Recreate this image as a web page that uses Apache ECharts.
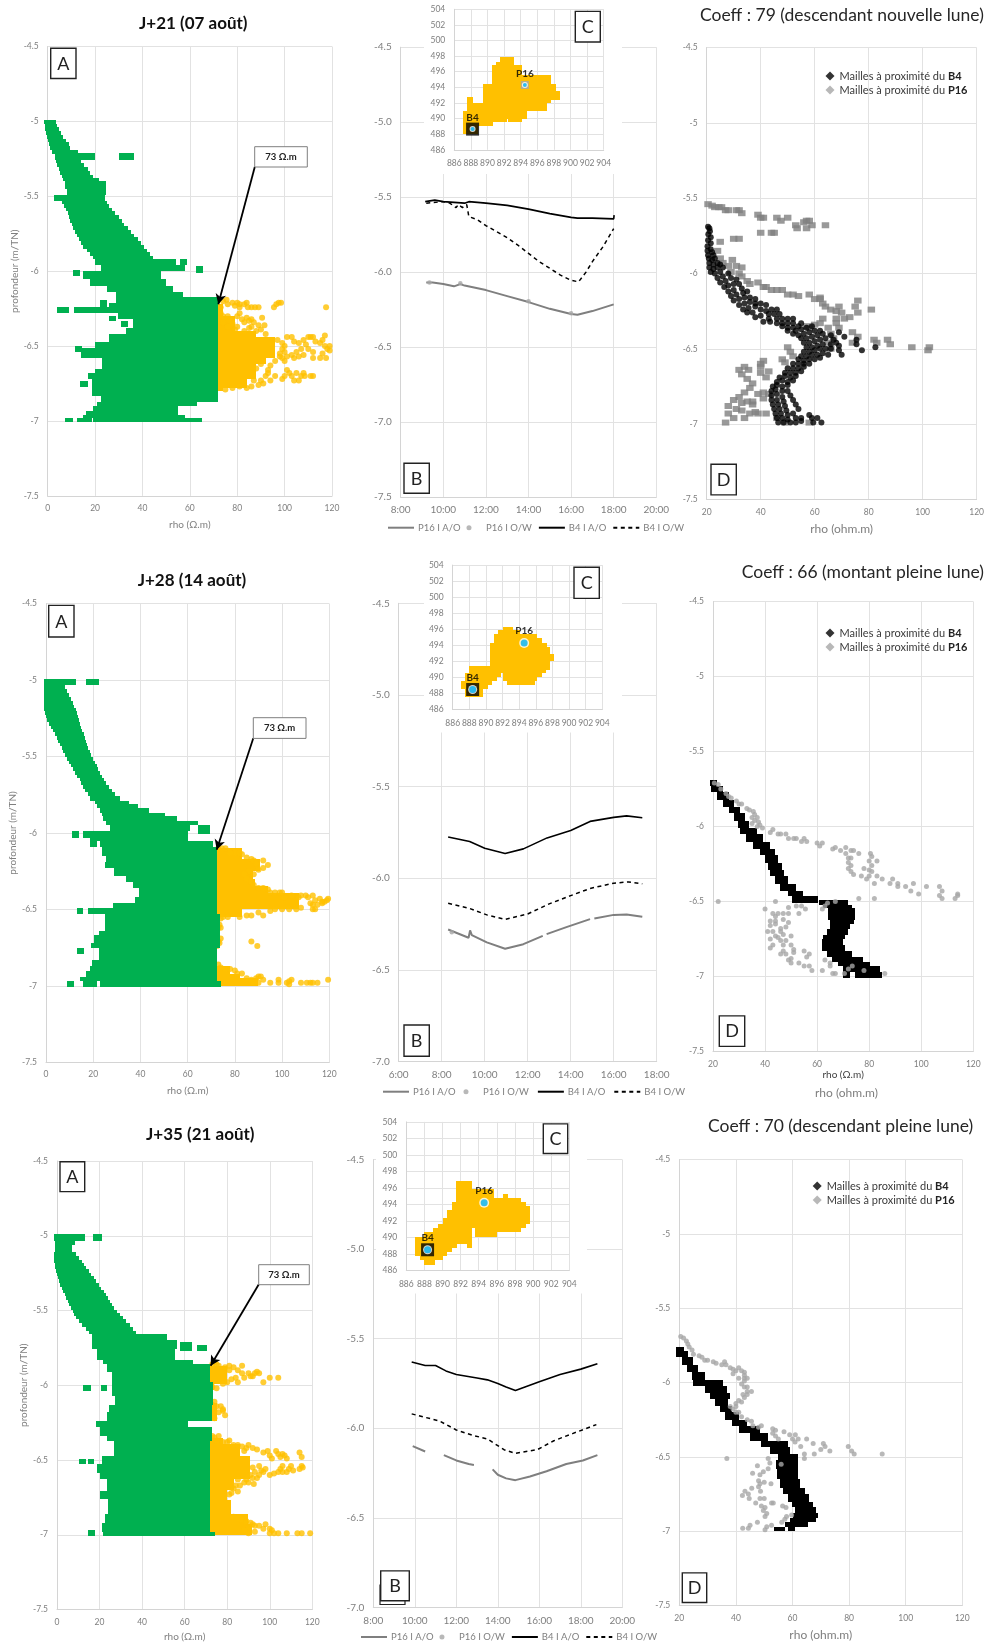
<!DOCTYPE html>
<html><head><meta charset="utf-8">
<script src="https://cdn.jsdelivr.net/npm/echarts@6/dist/echarts.min.js"></script>
<style>html,body{margin:0;padding:0;background:#fff}#c{width:987px;height:1643px;filter:blur(0.4px)}</style>
</head><body><div id="c"></div>
<script>
// ---------- tick / text lists
const titlesBold=["J+21 (07 août)","J+28 (14 août)","J+35 (21 août)"];
const titlesCoeff=["Coeff : 79 (descendant nouvelle lune)","Coeff : 66 (montant pleine lune)","Coeff : 70 (descendant pleine lune)"];
const legendB=["P16 I A/O","P16 I O/W","B4 I A/O","B4 I O/W"];
const legendD=["Mailles à proximité du B4","Mailles à proximité du P16"];

// ---------- panel A: rows are [depthTop, depthBottom, rhoLeft, rhoRight]
const a1Green=[[-4.99,-5.015,-1.5,3.4],[-5.015,-5.04,-1.3,3.8],[-5.04,-5.065,-1,4.6],[-5.065,-5.09,-0.8,5.6],[-5.09,-5.115,-0.5,6.6],[-5.115,-5.14,0,7.8],[-5.14,-5.165,0.4,8.8],[-5.165,-5.19,1,9.6],[-5.19,-5.22,1.8,13],[-5.21,-5.26,3,20],[-5.21,-5.26,30,36.5],[-5.26,-5.28,3.6,14],[-5.28,-5.305,4,15.5],[-5.305,-5.33,4.8,16.8],[-5.33,-5.355,5.4,18],[-5.355,-5.38,6,19],[-5.38,-5.4,6.6,21.5],[-5.4,-5.45,7.2,24.5],[-5.45,-5.49,8,24.5],[-5.49,-5.53,2.7,24],[-5.53,-5.55,6,25],[-5.55,-5.575,7,26],[-5.575,-5.6,7.8,27.2],[-5.6,-5.625,8.4,28.6],[-5.625,-5.65,9,30],[-5.65,-5.675,9.6,31.2],[-5.675,-5.7,10.2,32.4],[-5.7,-5.725,10.8,33.8],[-5.725,-5.75,11.6,35.2],[-5.75,-5.775,12.4,36.6],[-5.775,-5.8,13.2,38],[-5.8,-5.825,14,39.4],[-5.825,-5.85,15,40.6],[-5.85,-5.875,16.4,42],[-5.875,-5.9,18,43.2],[-5.9,-5.92,19,44.4],[-5.92,-5.96,20,54],[-5.92,-5.96,56,59],[-5.96,-6,22.5,58],[-5.965,-6.01,62.5,65.5],[-6,-6.05,15,48],[-5.99,-6.03,10.7,13.7],[-6.05,-6.1,18,50],[-6.1,-6.14,25,53],[-6.14,-6.17,29,57],[-6.17,-6.21,29,72],[-6.21,-6.24,26,72],[-6.19,-6.24,22,25],[-6.24,-6.28,11,72],[-6.24,-6.28,4,9],[-6.28,-6.32,29.5,72],[-6.3,-6.335,26,29],[-6.33,-6.37,31,34],[-6.32,-6.38,36,72],[-6.38,-6.42,33,72],[-6.42,-6.47,26,72],[-6.47,-6.51,20,72],[-6.5,-6.54,11.5,14.5],[-6.51,-6.58,14,72],[-6.58,-6.65,23,72],[-6.65,-6.68,20,72],[-6.68,-6.72,17,72],[-6.73,-6.77,13.8,16.8],[-6.72,-6.83,18.5,72],[-6.83,-6.87,22.5,72],[-6.87,-6.9,21,63],[-6.9,-6.93,19,55],[-6.93,-6.96,16,55],[-6.96,-6.98,15,58],[-6.98,-7.01,19,65],[-6.98,-7.01,12.2,18.7],[-6.98,-7.01,7.5,10.5]];
const a1Yellow=[[-6.22,-6.3,72,74],[-6.3,-6.42,72,79],[-6.4,-6.44,72,88],[-6.44,-6.58,72,96],[-6.58,-6.62,72,92],[-6.62,-6.72,72,88],[-6.72,-6.78,72,84],[-6.78,-6.8,72,74]];
const a1Dots=[[74,-6.2],[75.5,-6.19],[76,-6.22],[73,-6.24],[78,-6.21],[79,-6.23],[80,-6.21],[81,-6.22],[81,-6.24],[83,-6.22],[84,-6.21],[84.5,-6.24],[86,-6.24],[87.5,-6.24],[89,-6.24],[95.5,-6.24],[96.5,-6.22],[97.5,-6.21],[98.5,-6.21],[117.5,-6.24],[73,-6.28],[74,-6.3],[75,-6.32],[74,-6.34],[76,-6.3],[77,-6.33],[78,-6.35],[80,-6.3],[81,-6.28],[82,-6.32],[83,-6.34],[84,-6.31],[85,-6.33],[86,-6.32],[87,-6.34],[89,-6.36],[90.5,-6.31],[91.5,-6.36],[90,-6.39],[92,-6.42],[88,-6.4],[85,-6.38],[80,-6.37],[76,-6.37],[79,-6.39],[83,-6.4],[86,-6.37],[101,-6.44],[103,-6.44],[104,-6.47],[106,-6.48],[108,-6.46],[110,-6.44],[111,-6.44],[112,-6.44],[109,-6.49],[107,-6.52],[113,-6.47],[115,-6.48],[116,-6.46],[117,-6.43],[117,-6.5],[118,-6.52],[119,-6.5],[119,-6.53],[116,-6.55],[117.5,-6.58],[115,-6.58],[112,-6.54],[112,-6.58],[110,-6.52],[108,-6.56],[105,-6.54],[106,-6.57],[104,-6.58],[103,-6.56],[100,-6.54],[101,-6.57],[99,-6.58],[100,-6.6],[98,-6.57],[101,-6.66],[102,-6.68],[103,-6.7],[105,-6.68],[106,-6.73],[107,-6.7],[108,-6.68],[104,-6.73],[100,-6.7],[99,-6.72],[96,-6.7],[112,-6.7],[111,-6.7],[108.5,-6.7],[94,-6.73],[91,-6.75],[93,-6.68],[97,-6.46],[99,-6.48],[100,-6.5],[99,-6.52],[98,-6.55],[96,-6.6],[94,-6.63],[93,-6.66],[92,-6.7],[90,-6.73],[89,-6.76],[86,-6.77],[84,-6.78],[81,-6.77],[78,-6.78],[75,-6.79],[88,-6.65],[90,-6.62],[87,-6.73]];
const a2Green=[[-4.99,-5.03,-1,12.7],[-4.99,-5.03,17,22.6],[-5.03,-5.06,-1,8],[-5.06,-5.085,-1,9],[-5.085,-5.11,-1,9.9],[-5.11,-5.135,-1,10.8],[-5.135,-5.16,-1,11.5],[-5.16,-5.18,-1,12],[-5.18,-5.2,-0.8,12.5],[-5.2,-5.225,-0.4,13],[-5.225,-5.25,0,13.5],[-5.25,-5.275,0.6,14],[-5.275,-5.3,1.4,14.5],[-5.3,-5.32,2.2,15],[-5.32,-5.34,3,15.4],[-5.34,-5.365,3.8,16],[-5.365,-5.39,4.5,16.5],[-5.39,-5.41,5.2,17],[-5.41,-5.43,6,17.5],[-5.43,-5.455,6.6,18],[-5.455,-5.48,7.3,18.6],[-5.48,-5.505,8,19.2],[-5.505,-5.53,8.8,20],[-5.53,-5.55,9.6,20.7],[-5.55,-5.57,10.6,21.4],[-5.57,-5.595,11.6,22],[-5.595,-5.62,12.4,22.8],[-5.62,-5.64,13.3,23.6],[-5.64,-5.66,14.2,24.6],[-5.66,-5.685,15,25.6],[-5.685,-5.71,15.8,26.6],[-5.71,-5.735,16.6,27.8],[-5.735,-5.76,17.6,29.4],[-5.76,-5.79,18.6,31.3],[-5.79,-5.81,20.8,35],[-5.81,-5.84,21.5,39],[-5.84,-5.87,22.9,43.6],[-5.87,-5.89,23.6,50.4],[-5.89,-5.92,24.3,55.3],[-5.92,-5.95,25.4,64.5],[-5.95,-5.99,27,61],[-5.95,-6.01,64.5,69.5],[-5.99,-6.03,15.5,60.3],[-5.99,-6.03,11,14],[-6.03,-6.05,18.6,60.3],[-6.03,-6.09,18.6,21.8],[-6.05,-6.09,22.9,70.9],[-6.09,-6.15,23.6,72.3],[-6.15,-6.19,25.4,72.3],[-6.19,-6.23,25.1,72.3],[-6.23,-6.28,29,72.3],[-6.28,-6.32,34,72.3],[-6.32,-6.36,37,72.3],[-6.36,-6.42,39.5,72.3],[-6.42,-6.46,37.7,72.3],[-6.46,-6.49,28.5,72.3],[-6.49,-6.53,25,72.3],[-6.49,-6.53,13,15.8],[-6.49,-6.53,18,25.4],[-6.53,-6.64,25,73.7],[-6.64,-6.67,22.4,73.7],[-6.67,-6.72,20.3,73.7],[-6.72,-6.75,18.9,73.7],[-6.75,-6.83,22.4,72.3],[-6.75,-6.79,13.3,16.2],[-6.83,-6.87,19.4,72.3],[-6.87,-6.9,18.6,72.3],[-6.9,-6.94,17,72.3],[-6.94,-6.97,14.4,72.3],[-6.97,-7.01,23,74],[-6.97,-7.01,15.5,21.7],[-6.97,-7.01,8.8,11.9]];
const a2Yellow=[[-6.1,-6.17,72,83],[-6.17,-6.25,72,90.6],[-6.25,-6.3,72,87.8],[-6.3,-6.35,72,88.5],[-6.35,-6.39,72,94],[-6.39,-6.5,72,107],[-6.5,-6.55,72,83],[-6.55,-6.6,72,73.5],[-6.87,-6.92,72,78],[-6.92,-6.95,72,82],[-6.95,-7,72,90]];
const a2Dots=[[73,-6.1],[74.5,-6.1],[76,-6.1],[78,-6.13],[80,-6.13],[82,-6.13],[83,-6.14],[85,-6.16],[87,-6.17],[88,-6.18],[89,-6.2],[92,-6.18],[94,-6.21],[92,-6.23],[90,-6.24],[86,-6.25],[84,-6.27],[88,-6.27],[85,-6.3],[87,-6.32],[88,-6.34],[90,-6.36],[92,-6.36],[94,-6.37],[95,-6.39],[97,-6.39],[99,-6.39],[100,-6.39],[101,-6.42],[104,-6.41],[107,-6.42],[108,-6.41],[110,-6.41],[111,-6.42],[113,-6.41],[114,-6.44],[116,-6.43],[117,-6.45],[118,-6.45],[119,-6.44],[119.5,-6.43],[117,-6.46],[115,-6.47],[113,-6.47],[113,-6.5],[114,-6.5],[112,-6.46],[108,-6.49],[106,-6.5],[103,-6.5],[100,-6.5],[97,-6.5],[95,-6.51],[90,-6.52],[92,-6.54],[85,-6.54],[87,-6.54],[82,-6.55],[77,-6.55],[74,-6.56],[75,-6.55],[72.5,-6.6],[73.5,-6.6],[74,-6.62],[73,-6.62],[73,-6.71],[74,-6.69],[73.5,-6.72],[72.5,-6.74],[87,-6.71],[89.5,-6.74],[73,-6.86],[74,-6.88],[76,-6.89],[78,-6.89],[80,-6.9],[81,-6.92],[83,-6.92],[85,-6.95],[87,-6.96],[89,-6.95],[90,-6.94],[91,-6.94],[92,-6.96],[88,-6.98],[90,-6.98],[95,-6.98],[98.5,-6.96],[98.5,-6.98],[103,-6.97],[104,-6.96],[102,-6.98],[103,-6.99],[108,-6.98],[110.5,-6.98],[112,-6.98],[113,-6.98],[115,-6.98],[119.5,-6.96]];
const a3Green=[[-4.99,-5.035,-1.4,13.2],[-4.99,-5.035,16.8,21.3],[-5.035,-5.06,-1,8.5],[-5.06,-5.11,-1,6.9],[-5.11,-5.135,-1.2,9],[-5.135,-5.16,-1.2,10.4],[-5.16,-5.18,-1.2,11.6],[-5.18,-5.2,-1.1,12.6],[-5.2,-5.225,-0.8,13.8],[-5.225,-5.25,-0.4,15],[-5.25,-5.27,0,16],[-5.27,-5.29,0.4,17.2],[-5.29,-5.315,0.8,18.4],[-5.315,-5.34,1.4,19.6],[-5.34,-5.36,2.2,20.8],[-5.36,-5.38,3,22],[-5.38,-5.405,3.8,23],[-5.405,-5.43,4.4,24],[-5.43,-5.45,5,25],[-5.45,-5.47,5.7,26],[-5.47,-5.495,6.5,27],[-5.495,-5.52,7.3,28.2],[-5.52,-5.54,8.2,29.4],[-5.54,-5.56,9,30.8],[-5.56,-5.585,10.4,32.6],[-5.585,-5.61,11.8,34.4],[-5.61,-5.635,13.4,35.6],[-5.635,-5.66,15,37],[-5.66,-5.7,16.3,51.5],[-5.7,-5.76,16.6,56.2],[-5.71,-5.77,57.8,63.3],[-5.73,-5.77,65.6,70.7],[-5.76,-5.83,18.6,55.5],[-5.83,-5.86,21.8,64],[-5.86,-5.91,23.3,72],[-5.91,-5.98,26,72],[-5.98,-6.07,25.7,73.5],[-6,-6.04,12.4,15.8],[-6,-6.04,20.5,23.7],[-6.07,-6.13,27.3,73.5],[-6.13,-6.18,24.6,72.7],[-6.18,-6.24,23.7,72.7],[-6.24,-6.28,18.2,61.7],[-6.28,-6.34,20,72.7],[-6.34,-6.37,23.3,72.7],[-6.37,-6.47,26.8,72],[-6.47,-6.53,21,72],[-6.49,-6.53,10.3,13.5],[-6.49,-6.53,14.4,17.5],[-6.53,-6.59,19,72],[-6.59,-6.63,20.2,72],[-6.63,-6.71,23.7,72],[-6.71,-6.76,20.2,72],[-6.76,-6.86,24,72],[-6.86,-6.92,22.6,72],[-6.92,-6.98,21.3,72],[-6.98,-7.01,21.6,74.3],[-6.97,-7.01,14.4,17.9]];
const a3Yellow=[[-5.87,-5.99,72,79.7],[-5.99,-6.03,72,74],[-6.12,-6.24,72,75],[-6.35,-6.39,72,78],[-6.39,-6.47,72,86],[-6.47,-6.63,72,90.7],[-6.63,-6.7,72,83],[-6.7,-6.77,72,80],[-6.77,-6.86,72,82],[-6.86,-6.93,72,90],[-6.93,-7,72,91.5]];
const a3Dots=[[73,-5.86],[74,-5.85],[75,-5.86],[76,-5.87],[79,-5.88],[81,-5.87],[81,-5.9],[83,-5.88],[85,-5.9],[87,-5.87],[87,-5.92],[88,-5.95],[90,-5.92],[91,-5.94],[93,-5.92],[94,-5.91],[95,-5.92],[92,-5.94],[97,-5.98],[100,-5.95],[104,-5.95],[84,-5.95],[85,-5.98],[80,-5.98],[82,-5.96],[78,-5.99],[75,-6.02],[73,-6.01],[74,-6.11],[73,-6.13],[75,-6.14],[77,-6.14],[78,-6.17],[79,-6.2],[74,-6.17],[76,-6.18],[73,-6.2],[74,-6.22],[72.5,-6.16],[78,-6.16],[73,-6.34],[74,-6.35],[76,-6.34],[75,-6.37],[78,-6.38],[80,-6.38],[81,-6.37],[83,-6.4],[85,-6.4],[87,-6.41],[89,-6.42],[90,-6.4],[88,-6.44],[92,-6.42],[94,-6.43],[97,-6.45],[99,-6.44],[100,-6.47],[101,-6.49],[103,-6.44],[104,-6.46],[105,-6.48],[106,-6.46],[107,-6.47],[108,-6.49],[114,-6.45],[115,-6.48],[115,-6.54],[115.5,-6.55],[114,-6.56],[110,-6.54],[111,-6.57],[109,-6.56],[108,-6.58],[106,-6.54],[105,-6.56],[106,-6.58],[104,-6.58],[102,-6.59],[100,-6.6],[98,-6.56],[97,-6.58],[96,-6.57],[95,-6.54],[92,-6.55],[93,-6.58],[91,-6.6],[94,-6.62],[92,-6.62],[95,-6.6],[89,-6.63],[88,-6.65],[90,-6.65],[92.5,-6.66],[85,-6.63],[84,-6.67],[86,-6.67],[83,-6.69],[85,-6.71],[82,-6.72],[81,-6.73],[83,-6.88],[85,-6.89],[87,-6.9],[89,-6.91],[91,-6.92],[92,-6.93],[93,-6.94],[95,-6.94],[97,-6.96],[98,-6.93],[100,-6.96],[101,-6.97],[93,-6.98],[100,-6.99],[102,-6.99],[104,-6.99],[108,-6.99],[113,-6.99],[115,-6.99],[119,-6.99],[90,-6.96],[88,-6.97],[90,-6.99]];
// arrows of the 73 ohm.m callouts: [rho, depth] start and tip
const a1Arrow=[[87.4,-5.305],[72,-6.22]];
const a2Arrow=[[87.8,-5.38],[72.3,-6.11]];
const a3Arrow=[[94.8,-5.326],[72.2,-5.87]];

// ---------- panel B: [hour, level]
const b1P16AO=[[9.2,-6.07],[9.5,-6.07],[10,-6.08],[10.5,-6.095],[10.8,-6.08],[11,-6.09],[12,-6.12],[13,-6.16],[14,-6.2],[15,-6.245],[16,-6.28],[16.3,-6.285],[17,-6.26],[18,-6.215]];
const b1P16OW=[[9.35,-6.07],[10.8,-6.075],[14,-6.195],[16,-6.275]];
const b1B4AO=[[9.15,-5.53],[9.6,-5.52],[10,-5.53],[11,-5.54],[11.2,-5.53],[12,-5.54],[13,-5.555],[14,-5.58],[15,-5.61],[16,-5.635],[16.3,-5.64],[17,-5.64],[18,-5.645],[18.02,-5.62]];
const b1B4OW=[[9.2,-5.54],[10,-5.53],[10.3,-5.54],[10.6,-5.57],[10.7,-5.55],[10.9,-5.57],[11.1,-5.55],[11.2,-5.63],[11.6,-5.65],[12,-5.69],[12.5,-5.73],[13,-5.77],[13.5,-5.82],[14,-5.875],[14.5,-5.93],[15,-5.975],[15.5,-6.02],[16,-6.055],[16.35,-6.065],[16.7,-6],[17,-5.93],[17.5,-5.83],[18,-5.71]];
const b2P16AO=[[8.3,-6.28],[9.25,-6.325],[9.32,-6.285],[9.4,-6.31],[10.1,-6.35],[10.95,-6.385],[11.8,-6.36],[12.7,-6.315],[12.8,null],[12.88,-6.305],[13.8,-6.267],[14.9,-6.223],[15,null],[15.1,-6.22],[16,-6.2],[16.6,-6.198],[17.33,-6.21]];
const b2P16OW=[[8.47,-6.295]];
const b2B4AO=[[8.3,-5.775],[9.3,-5.8],[10,-5.836],[10.95,-5.865],[11.8,-5.84],[12.9,-5.78],[14,-5.74],[14.9,-5.69],[16,-5.668],[16.6,-5.66],[17.33,-5.67]];
const b2B4OW=[[8.3,-6.137],[9.3,-6.165],[10.1,-6.2],[10.95,-6.225],[12,-6.195],[13,-6.14],[14,-6.095],[14.9,-6.056],[16,-6.027],[16.7,-6.02],[17.33,-6.03]];
const b3P16AO=[[9.9,-6.1],[10.5,-6.13],[11,null],[11.4,-6.15],[12,-6.18],[12.6,-6.2],[12.85,-6.205],[13.3,null],[13.75,-6.23],[14,-6.26],[14.4,-6.28],[14.85,-6.29],[15.55,-6.27],[16.35,-6.24],[17.3,-6.2],[18.1,-6.18],[18.8,-6.15]];
const b3P16OW=[];
const b3B4AO=[[9.85,-5.63],[10.5,-5.65],[11,-5.65],[11.5,-5.68],[12,-5.7],[13,-5.72],[13.5,-5.73],[14,-5.75],[14.4,-5.77],[14.85,-5.79],[16,-5.74],[17,-5.7],[18,-5.67],[18.8,-5.64]];
const b3B4OW=[[9.85,-5.92],[11.2,-5.96],[12,-6.01],[12.8,-6.04],[13.5,-6.06],[14.3,-6.12],[14.85,-6.14],[15.9,-6.12],[16.7,-6.07],[17.6,-6.03],[18.75,-5.98]];

// ---------- panel C: rows are [yTop, yBottom, xLeft, xRight]
const c1Plume=[[497.9,497.3,891.5,893.2],[497.3,496.9,891,893.2],[496.9,495.6,890.5,894.2],[495.6,494.4,890.5,897.7],[494.4,493.5,889.5,898.2],[493.5,492.4,889.5,898.7],[492.4,492,889.5,897.7],[492.8,491,887.5,888.3],[492,491,887.5,897.2],[491,490,887,894.7],[490,489.5,887,892.4],[490,489.5,892.5,894.1],[489.5,489,887,890.7],[489,488,887,888.8]];
const c2Plume=[[496.3,495.9,892,893.3],[495.9,495.4,891.5,894.1],[495.4,494.9,891,896.1],[494.9,494.3,891,896.8],[494.3,493.8,890.5,897.3],[493.8,492.9,890.5,897.7],[492.9,492,890.5,898.2],[492,491.4,890.5,897.7],[491.4,490.9,888,897.7],[490.9,490.6,888,897.2],[490.6,490.1,887.5,891.8],[490.6,490.1,892,896.8],[490.1,489.6,887.5,891.3],[490.1,489.6,892,896.1],[489.6,489.1,887,890.7],[489.6,489.1,892.5,895.9],[489.1,488.6,887,890.3],[488.6,487.6,887.5,889.7]];
const c3Plume=[[496.8,495.9,891.5,893.2],[495.9,495.3,891.5,895.7],[495.3,494.8,891.5,895.7],[495.3,494.8,896.7,897.2],[494.8,494.3,891.5,898.7],[494.3,493.8,891,899.2],[493.8,493.3,891,899.7],[493.3,492.3,890.5,899.7],[492.3,491.6,890,899.7],[491.6,491.1,889.5,899.2],[491.1,490.6,889,893.2],[491.1,490.6,893.6,898.7],[490.6,490,888,893.2],[490.6,490,893.6,896],[490,489.2,887,893.2],[489.2,488.7,887,891.6],[489.2,488.7,892.7,893.2],[488.7,488.2,887,891],[488.2,487.7,887,890.5],[487.7,487.2,887.5,890],[487.2,486.7,888,889.2]];
const c1B4=[[888.2,488.65]], c1P16=[[894.5,494.3]];
const c2B4=[[888.4,488.5]], c2P16=[[894.6,494.3]];
const c3B4=[[888.35,488.5]], c3P16=[[894.6,494.2]];

// ---------- panel D
const d1B4=[[20.5,-5.69],[21,-5.7],[21.2,-5.72],[20.6,-5.74],[21.5,-5.76],[20.5,-5.78],[21.5,-5.8],[20.3,-5.82],[21.5,-5.84],[20.3,-5.85],[22,-5.86],[20.5,-5.88],[22.5,-5.88],[20.8,-5.9],[22,-5.91],[23,-5.9],[21,-5.93],[22.5,-5.94],[24,-5.93],[21,-5.96],[22.5,-5.97],[24,-5.96],[25,-5.94],[21.5,-5.99],[23,-6],[25,-5.99],[26,-5.96],[24,-6.03],[26,-6.02],[28,-6],[25,-6.06],[27,-6.05],[29,-6.03],[31,-6.04],[26.5,-6.09],[28,-6.08],[30,-6.07],[32,-6.07],[28,-6.12],[30,-6.11],[33,-6.1],[29,-6.15],[31,-6.14],[33.5,-6.13],[35,-6.12],[30,-6.18],[32,-6.17],[34,-6.16],[36,-6.16],[38,-6.17],[32,-6.21],[34,-6.2],[36,-6.19],[38,-6.2],[40,-6.2],[33.5,-6.24],[35.5,-6.23],[38,-6.22],[42,-6.21],[35,-6.26],[37,-6.26],[40,-6.24],[42,-6.25],[44,-6.24],[46,-6.24],[38,-6.29],[40,-6.28],[43,-6.27],[45,-6.27],[47,-6.27],[41,-6.32],[43,-6.3],[46,-6.3],[48,-6.3],[50,-6.3],[52,-6.3],[43.5,-6.32],[46,-6.33],[48,-6.33],[50,-6.33],[52,-6.33],[48,-6.35],[50,-6.36],[52,-6.36],[54,-6.35],[55,-6.33],[50,-6.38],[53,-6.38],[55,-6.37],[57,-6.36],[59,-6.35],[52,-6.4],[54,-6.41],[56,-6.4],[58,-6.39],[60,-6.38],[62,-6.38],[55,-6.43],[57,-6.43],[59,-6.42],[61,-6.41],[63,-6.4],[66,-6.41],[69,-6.39],[71,-6.42],[56,-6.46],[58,-6.46],[60,-6.45],[62,-6.44],[64,-6.43],[67,-6.44],[75.5,-6.44],[75.5,-6.47],[57,-6.49],[59,-6.49],[61,-6.48],[63,-6.47],[66,-6.47],[68,-6.46],[69,-6.48],[77.5,-6.51],[82.5,-6.49],[56,-6.52],[58,-6.52],[60,-6.51],[62,-6.5],[64,-6.5],[66,-6.5],[69,-6.51],[55,-6.55],[57,-6.55],[59,-6.54],[61,-6.54],[63,-6.53],[65,-6.54],[70,-6.54],[54,-6.57],[56,-6.58],[58,-6.57],[60,-6.57],[62,-6.56],[52,-6.6],[54,-6.6],[56,-6.6],[58,-6.6],[50,-6.63],[52,-6.63],[54,-6.63],[56,-6.62],[49,-6.66],[51,-6.66],[53,-6.66],[55,-6.65],[47,-6.69],[49,-6.68],[51,-6.69],[53,-6.68],[46,-6.72],[48,-6.71],[50,-6.72],[52,-6.71],[44.5,-6.75],[46,-6.74],[48,-6.75],[50,-6.74],[44,-6.78],[45.5,-6.77],[48,-6.78],[50,-6.78],[44,-6.81],[46,-6.8],[48,-6.82],[51,-6.81],[44,-6.84],[46,-6.84],[48.5,-6.85],[52,-6.84],[44.5,-6.87],[46.5,-6.87],[49,-6.88],[53,-6.87],[45,-6.9],[47,-6.9],[49.5,-6.91],[54,-6.9],[45.5,-6.93],[47.5,-6.93],[50,-6.94],[52,-6.93],[58,-6.94],[46,-6.96],[48,-6.96],[50,-6.97],[53,-6.96],[55,-6.96],[59,-6.96],[61,-6.96],[46.5,-6.99],[48.5,-6.99],[51,-6.99],[53,-6.99],[55,-6.98],[59.5,-6.99],[62.5,-6.99]];
const d1P16=[[20.5,-5.54],[22,-5.55],[23,-5.56],[24.5,-5.56],[25.5,-5.56],[27,-5.58],[28,-5.58],[31,-5.58],[32,-5.58],[33,-5.6],[39,-5.61],[40,-5.63],[41,-5.63],[46,-5.63],[47.5,-5.65],[50,-5.63],[53,-5.68],[53.5,-5.7],[56,-5.66],[57,-5.65],[58,-5.65],[57,-5.7],[59,-5.68],[64,-5.68],[40,-5.73],[44,-5.73],[45,-5.73],[30,-5.77],[32,-5.77],[25,-5.79],[24,-5.85],[25,-5.9],[26,-5.93],[28,-5.95],[29.5,-5.91],[31,-5.95],[33,-5.96],[29,-5.99],[32,-6],[33,-6.02],[35,-6.05],[36,-6.07],[39,-6.06],[41,-6.09],[42,-6.09],[44,-6.11],[46,-6.11],[48,-6.11],[50,-6.14],[52,-6.14],[54,-6.15],[58,-6.14],[60,-6.17],[62,-6.17],[63,-6.2],[62,-6.16],[64,-6.22],[66,-6.24],[68,-6.25],[69,-6.22],[70,-6.26],[68,-6.3],[71,-6.3],[73,-6.29],[75,-6.22],[76,-6.18],[76,-6.26],[81,-6.24],[63,-6.3],[62,-6.33],[60,-6.34],[58,-6.36],[57,-6.35],[65,-6.36],[68,-6.33],[69,-6.36],[66,-6.4],[67,-6.43],[74,-6.39],[76,-6.42],[74,-6.46],[82,-6.44],[83,-6.46],[87,-6.44],[88,-6.47],[96,-6.49],[102,-6.51],[102.5,-6.49],[65,-6.46],[66,-6.5],[50,-6.49],[51,-6.52],[52,-6.55],[48,-6.57],[49,-6.59],[41,-6.58],[40,-6.6],[40,-6.62],[40,-6.66],[43,-6.65],[34,-6.62],[32,-6.64],[35.5,-6.64],[33,-6.67],[35,-6.7],[42,-6.69],[37,-6.73],[36,-6.76],[34,-6.79],[32,-6.82],[30,-6.84],[28,-6.88],[33,-6.86],[35,-6.85],[37,-6.87],[37,-6.85],[39,-6.8],[41,-6.79],[43,-6.8],[41,-6.83],[38,-6.92],[36,-6.93],[39,-6.93],[31,-6.9],[33,-6.91],[28,-6.93],[30,-6.96],[34,-6.96],[42,-6.93],[27,-6.99],[49,-6.99],[58,-6.99],[46,-6.96]];
const d2B4=[[-5.69,-5.73,19,21.4],[-5.73,-5.77,19.3,24],[-5.77,-5.82,21.4,26],[-5.82,-5.87,24,28],[-5.87,-5.91,26,30.4],[-5.91,-5.96,28,32.3],[-5.96,-6.01,29.7,34],[-6.01,-6.05,30.4,36.8],[-6.05,-6.1,32.8,39.3],[-6.1,-6.15,35.5,42],[-6.15,-6.19,38,43.8],[-6.19,-6.24,40,45],[-6.24,-6.29,41.2,46.4],[-6.29,-6.33,41.9,47.3],[-6.33,-6.38,43.8,49],[-6.38,-6.43,45.7,52],[-6.43,-6.465,48.9,54.7],[-6.465,-6.51,50.2,60.4],[-6.49,-6.52,60.8,72],[-6.52,-6.54,62.4,73.3],[-6.54,-6.62,64,74.5],[-6.62,-6.65,65,74],[-6.65,-6.68,65,72.7],[-6.68,-6.72,63.7,72],[-6.72,-6.75,62.4,70.7],[-6.75,-6.79,62,70],[-6.79,-6.83,62,70.7],[-6.83,-6.87,63.7,73.3],[-6.87,-6.9,65.6,77.7],[-6.9,-6.93,68,80.3],[-6.93,-6.97,70,84],[-6.97,-7.01,70,72.6],[-6.97,-7.01,74.5,85]];
const d2P16=[[20.5,-5.71],[22,-5.72],[23,-5.75],[25,-5.78],[26,-5.8],[27,-5.81],[29,-5.83],[30,-5.85],[31,-5.85],[33,-5.88],[34,-5.89],[35.5,-5.9],[36,-5.92],[35,-5.94],[37,-5.94],[36,-5.96],[37.5,-5.97],[35,-5.98],[38,-5.99],[39,-6.01],[37,-6],[42,-6.04],[43,-6.02],[45,-6.05],[46,-6.05],[48,-6.05],[49,-6.08],[51,-6.08],[52,-6.08],[54,-6.1],[55,-6.08],[56,-6.1],[60,-6.11],[61,-6.13],[62,-6.11],[66,-6.15],[67,-6.14],[69,-6.16],[71,-6.14],[73,-6.16],[74,-6.16],[76,-6.18],[80.5,-6.18],[81,-6.2],[83,-6.23],[80,-6.23],[81,-6.26],[71,-6.18],[72,-6.21],[73,-6.21],[72,-6.24],[73,-6.26],[72,-6.28],[73,-6.3],[74,-6.32],[77,-6.33],[79,-6.35],[80,-6.33],[78,-6.28],[80,-6.29],[81,-6.3],[83,-6.33],[85,-6.35],[82,-6.38],[88,-6.38],[89,-6.35],[91,-6.38],[91,-6.4],[94,-6.4],[96,-6.43],[97,-6.38],[99,-6.45],[102,-6.4],[107,-6.4],[108,-6.43],[107,-6.46],[108,-6.48],[113,-6.48],[114,-6.46],[114,-6.45],[76,-6.48],[82,-6.48],[22,-6.5],[44,-6.5],[40,-6.55],[49,-6.54],[52,-6.53],[54,-6.53],[53,-6.58],[55.5,-6.55],[64,-6.51],[67,-6.5],[63,-6.53],[62,-6.55],[43,-6.58],[45,-6.58],[47,-6.58],[49,-6.58],[44,-6.6],[42,-6.63],[44,-6.63],[47,-6.62],[49,-6.64],[42,-6.66],[44,-6.65],[46,-6.68],[48,-6.67],[43,-6.7],[41,-6.7],[46,-6.7],[47,-6.72],[44,-6.73],[50,-6.73],[42,-6.75],[45,-6.74],[48,-6.76],[46,-6.76],[43,-6.79],[47,-6.79],[50,-6.79],[42,-6.81],[47,-6.83],[51,-6.82],[51,-6.84],[46,-6.85],[48,-6.85],[50,-6.88],[55,-6.83],[57,-6.85],[56,-6.87],[49,-6.89],[50,-6.91],[53,-6.91],[55,-6.93],[57,-6.93],[58,-6.96],[62,-6.96],[63,-6.89],[65,-6.91],[65,-6.93],[66,-6.98],[67,-6.98],[70.5,-6.98],[73.5,-6.93],[78,-6.96],[86,-6.98],[72,-6.95]];
const d3B4=[[-5.76,-5.79,18.8,21.6],[-5.79,-5.83,19,23],[-5.83,-5.88,21,25],[-5.88,-5.93,22.6,26.7],[-5.93,-5.98,24.4,29],[-5.98,-6.02,25,35.5],[-6.02,-6.07,29,36.7],[-6.07,-6.11,30.8,38],[-6.11,-6.16,32.6,37.3],[-6.16,-6.2,34.4,38.5],[-6.2,-6.25,36,41],[-6.25,-6.29,38.5,43.8],[-6.29,-6.34,41,48.5],[-6.34,-6.39,45,51.5],[-6.39,-6.43,49,58.5],[-6.43,-6.48,52,59],[-6.48,-6.52,55,62],[-6.52,-6.58,54,62],[-6.58,-6.65,54.6,62],[-6.65,-6.71,55.6,62.6],[-6.71,-6.75,56.8,64.4],[-6.75,-6.8,58.5,66],[-6.8,-6.84,59.7,67.3],[-6.84,-6.88,61,68.3],[-6.88,-6.91,60.3,69],[-6.91,-6.94,59,68.2],[-6.94,-6.97,57.3,65.6],[-6.97,-7,53.5,57.5],[-6.97,-7,58.5,61]];
const d3P16=[[20.5,-5.69],[21.5,-5.7],[22.5,-5.72],[23,-5.74],[23.5,-5.76],[24.5,-5.78],[25,-5.81],[27,-5.82],[28,-5.83],[29,-5.85],[30,-5.85],[32,-5.86],[33,-5.87],[35,-5.88],[36,-5.86],[36.5,-5.88],[38,-5.9],[39,-5.91],[39,-5.94],[40,-5.92],[41,-5.9],[42,-5.92],[43,-5.93],[43,-5.95],[41,-5.97],[43,-5.97],[44,-5.97],[43,-5.99],[42,-6.01],[43,-6.03],[44,-6.03],[44,-6.06],[45.5,-6.06],[44,-6.08],[42.5,-6.08],[43,-6.1],[41,-6.12],[40,-6.14],[42,-6.13],[38,-6.16],[39,-6.18],[40,-6.16],[40,-6.2],[41,-6.2],[42,-6.23],[44,-6.25],[45.5,-6.26],[46,-6.29],[48,-6.3],[49,-6.29],[53,-6.31],[54,-6.32],[53,-6.34],[54,-6.36],[55,-6.38],[57,-6.33],[59,-6.35],[60,-6.38],[61,-6.35],[62,-6.38],[65,-6.38],[60.9,-6.4],[62.9,-6.43],[67.3,-6.41],[70.9,-6.41],[70,-6.45],[71.5,-6.43],[73.2,-6.46],[67.7,-6.48],[64.2,-6.48],[64.2,-6.51],[79.7,-6.43],[80.9,-6.46],[81.8,-6.48],[91.7,-6.48],[36.8,-6.51],[51.4,-6.51],[52,-6.54],[56,-6.55],[47.6,-6.56],[51.4,-6.58],[49.7,-6.6],[45.9,-6.61],[48.5,-6.62],[48,-6.66],[50,-6.67],[48.5,-6.68],[52.4,-6.68],[48,-6.7],[45.6,-6.71],[48.7,-6.73],[43.2,-6.73],[42.3,-6.76],[44.4,-6.75],[44.7,-6.78],[48.5,-6.78],[50,-6.78],[47,-6.81],[52.6,-6.81],[53.2,-6.81],[49,-6.83],[50.3,-6.84],[56.5,-6.83],[57.7,-6.84],[49.7,-6.86],[50.9,-6.88],[50.3,-6.9],[57.9,-6.9],[59.7,-6.89],[57.3,-6.92],[47.6,-6.94],[56.2,-6.94],[52.6,-6.96],[50.9,-6.97],[50.3,-6.99],[42.4,-6.98],[44.4,-6.98],[45,-6.96]];

// ---------- layout (pixel boxes: left, top, right, bottom)
const FONT='Lato, "Open Sans", sans-serif';
const C={grey:'#7f7f7f',grid:'#e2e2e2',axis:'#d4d4d4',green:'#00b050',yellow:'#ffc000',blue:'#00b0f0',dark:'#222'};
const layout=[
 {a:[47.7,46.5,332,495.9],b:[400.7,47.2,656.3,497],c:[454.3,9.3,603.7,149.8],d:[706.7,47.5,976.7,499.4],bx:[8,20],by:-7.5,
  mask:[424,0,622,174],leg:[387,522.7,6],legD:[825.5,70.5],ax:[a1Green,a1Yellow,a1Dots,a1Arrow],bd:[b1P16AO,b1P16OW,b1B4AO,b1B4OW],cd:[c1Plume,c1B4,c1P16],
  box73:[254.7,146.7,52.6,20.3]},
 {a:[46,603.7,329.3,1062.2],b:[398.7,603.3,656.7,1061.5],c:[452.7,565.1,602.3,709.6],d:[713,601.6,973.3,1051.6],bx:[6,18],by:-7,
  mask:[424,550,622,732.4],leg:[382,1086.7,8],legD:[825.5,627.5],ax:[a2Green,a2Yellow,a2Dots,a2Arrow],bd:[b2P16AO,b2P16OW,b2B4AO,b2B4OW],cd:[c2Plume,c2B4,c2P16],
  box73:[253.3,717.7,52.7,20.7]},
 {a:[57,1161,312.3,1610.3],b:[373.3,1159.6,622.3,1607.3],c:[406.3,1121.9,569.3,1270.4],d:[679.3,1159.6,962.3,1605.6],bx:[8,20],by:-7,
  mask:[376,1110,587,1293.5],leg:[360,1632,6],legD:[812.7,1180.5],ax:[a3Green,a3Yellow,a3Dots,a3Arrow],bd:[b3P16AO,b3P16OW,b3B4AO,b3B4OW],cd:[c3Plume,c3B4,c3P16],
  box73:[258.7,1264.7,50.6,20]}
];
const letterBoxes=[
 ['A',50.7,48.2,25.3,30.3],['B',404,463.2,25.3,30],['C',575.3,11.4,25,30.6],['D',711,464.3,25.3,30.6],
 ['A',48.7,605.4,25.3,31.6],['B',404,1025,25.3,31.2],['C',574,567.2,25.3,31.2],['D',719.3,1015.9,25.4,30.5],
 ['A',60,1161.7,24.7,29.9],['B',380.7,1570.9,28.6,29.9],['C',543.3,1123.9,24.4,29.6],['D',682.3,1572.9,24.4,29.6]];
const titlePos=[[139,15],[137.7,572.5],[146,1126.5]];
const coeffPos=[[700,6.5],[741.7,563.5],[708,1117.7]];

// ---------- helpers
const grids=[],xAxes=[],yAxes=[],series=[],legends=[],titles=[],graphics=[];
function addGrid(box,x,y,opt){
  const i=grids.length;
  grids.push({left:box[0],top:box[1],width:box[2]-box[0],height:box[3]-box[1]});
  const z=opt.z||0;
  const line={show:true,lineStyle:{color:C.axis,width:1}};
  const split={show:true,lineStyle:{color:C.grid,width:1}};
  const fs=opt.fs||8.5;
  xAxes.push({gridIndex:i,type:'value',z,min:x[0],max:x[1],interval:x[2],position:'bottom',
    axisLine:{...line,onZero:false},axisTick:{show:false},splitLine:split,
    axisLabel:{color:C.grey,fontSize:fs,fontFamily:FONT,margin:opt.xm||8,formatter:opt.xf,hideOverlap:false},
    name:opt.xn,nameLocation:'middle',nameGap:opt.xng||23.5,
    nameTextStyle:{color:opt.xnc||C.grey,fontSize:opt.xnfs||10,fontFamily:FONT}});
  yAxes.push({gridIndex:i,type:'value',z,min:y[0],max:y[1],interval:y[2],position:'left',
    axisLine:{...line,onZero:false},axisTick:{show:false},splitLine:split,
    axisLabel:{color:C.grey,fontSize:fs,fontFamily:FONT,margin:9,formatter:opt.yf,hideOverlap:false},
    name:opt.yn,nameLocation:'middle',nameGap:opt.yng||27,
    nameTextStyle:{color:C.grey,fontSize:10,fontFamily:FONT}});
  return i;
}
// rows of [top,bottom,left,right] through the axis scales
function rowsRender(params,api){
  const p=api.coord([api.value(2),api.value(0)]),q=api.coord([api.value(3),api.value(1)]);
  const x0=Math.round(p[0]),x1=Math.round(q[0]),y0=Math.round(p[1]),y1=Math.round(q[1]);
  return {type:'rect',shape:{x:x0,y:y0,width:x1-x0,height:y1-y0},style:{fill:api.visual('color')}};
}
function rows(i,data,color,z,name){
  series.push({type:'custom',name,xAxisIndex:i,yAxisIndex:i,data,renderItem:rowsRender,z:z||2,silent:true,
    itemStyle:{color},encode:{x:[2,3],y:[0,1]},animation:false});
}
function pts(i,data,o){
  series.push(Object.assign({type:'scatter',xAxisIndex:i,yAxisIndex:i,data,silent:true,animation:false,clip:false},o));
}
const rect=(x,y,w,h,o)=>({type:'rect',shape:{x,y,width:w,height:h},silent:true,...o});

const yF1=v=>String(v);
layout.forEach((L,r)=>{
  // Titles
  titles.push({text:titlesBold[r],left:titlePos[r][0],top:titlePos[r][1],padding:0,textStyle:{fontFamily:FONT,fontSize:17,fontWeight:'bold',color:'#111'}});
  titles.push({text:titlesCoeff[r],left:coeffPos[r][0],top:coeffPos[r][1],padding:0,textStyle:{fontFamily:FONT,fontSize:17.5,fontWeight:'normal',color:'#262626'}});

  // A
  const ia=addGrid(L.a,[0,120,20],[-7.5,-4.5,0.5],{xn:'rho (Ω.m)',xng:r==2?22.5:23.5,yn:'profondeur (m/TN)',yf:yF1});
  rows(ia,L.ax[1],C.yellow,2);
  pts(ia,L.ax[2],{symbol:'circle',symbolSize:6,itemStyle:{color:C.yellow},
    markLine:{silent:true,animation:false,symbol:['none','arrow'],symbolSize:[8,10],label:{show:false},
      lineStyle:{color:'#000',width:1.8,type:'solid'},data:[[{coord:L.ax[3][0]},{coord:L.ax[3][1]}]],z:6}});
  rows(ia,L.ax[0],C.green,3);

  // B
  const ib=addGrid(L.b,[L.bx[0],L.bx[1],2],[L.by,-4.5,0.5],{fs:10,xm:8,xf:v=>v+':00',yf:v=>v.toFixed(1)});
  const lineS=(name,data,color,w,type)=>series.push({type:'line',name,xAxisIndex:ib,yAxisIndex:ib,data,symbol:'none',showSymbol:false,connectNulls:false,
     lineStyle:{color,width:w,type},itemStyle:{color},silent:true,animation:false,z:3});
  lineS(legendB[0],L.bd[0],C.grey,2,'solid');
  pts(ib,L.bd[1],{name:legendB[1],symbol:'circle',symbolSize:4.5,itemStyle:{color:'#a6a6a6'},z:3});
  lineS(legendB[2],L.bd[2],'#000',1.6,'solid');
  lineS(legendB[3],L.bd[3],'#000',1.5,[4,3.5]);
  const noDot={color:'rgba(0,0,0,0)'};
  legends.push({left:L.leg[0],top:L.leg[1],itemGap:L.leg[2],itemWidth:26,itemHeight:5,padding:0,selectedMode:false,
    data:[{name:legendB[0],itemStyle:noDot},{name:legendB[1]},{name:legendB[2],itemStyle:noDot},{name:legendB[3],itemStyle:noDot}],
    textStyle:{color:C.grey,fontSize:9.5,fontFamily:FONT,padding:[0,0,0,-1]}});

  // mask behind inset C
  graphics.push(rect(L.mask[0],L.mask[1],L.mask[2]-L.mask[0],L.mask[3]-L.mask[1],{z:2,style:{fill:'#fff'}}));

  // C inset
  const ic=addGrid(L.c,[886,904,2],[486,504,2],{z:3,fs:8.5,xm:9,yf:yF1});
  rows(ic,L.cd[0],C.yellow,4);
  const lab=t=>({show:true,formatter:t,position:'top',color:'#000',fontWeight:'bold',fontSize:10,fontFamily:FONT});
  pts(ic,L.cd[1],{symbol:'rect',symbolSize:13,itemStyle:{color:'#000'},z:5,label:{...lab('B4'),distance:0}});
  if(r==0) pts(ic,L.cd[2],{symbol:'rect',symbolSize:8,itemStyle:{color:'#a6a6a6'},z:5});
  pts(ic,L.cd[1],{symbol:'circle',symbolSize:r==0?6:9,itemStyle:{color:'#fff'},z:6});
  pts(ic,L.cd[2],{symbol:'circle',symbolSize:r==0?6:10,itemStyle:{color:'#fff'},z:6,label:{...lab('P16'),distance:r==0?3:2}});
  pts(ic,L.cd[1],{symbol:'circle',symbolSize:r==0?4:7,itemStyle:{color:C.blue},z:7});
  pts(ic,L.cd[2],{symbol:'circle',symbolSize:r==0?4:7,itemStyle:{color:C.blue},z:7});

  // D
  const dOpt={xn:r==1?'rho (Ω.m)':'rho (ohm.m)',xnfs:r==1?10:12,xnc:r==1?'#404040':C.grey,xng:r==1?18.5:23.5,yf:yF1};
  const id=addGrid(L.d,[20,120,20],[-7.5,-4.5,0.5],dOpt);
  if(r==0){
    pts(id,d1P16,{name:legendD[1],symbol:'rect',symbolSize:[7.5,6],itemStyle:{color:'#7f7f7f'},z:3});
    pts(id,d1B4,{name:legendD[0],symbol:'circle',symbolSize:6,itemStyle:{color:'#000'},z:4});
  }else{
    rows(id,r==1?d2B4:d3B4,'#000',3,legendD[0]);
    pts(id,r==1?d2P16:d3P16,{name:legendD[1],symbol:'circle',symbolSize:5,itemStyle:{color:'#a6a6a6'},z:4});
  }
  legends.push({left:L.legD[0],top:L.legD[1],orient:'vertical',itemGap:3,itemWidth:9,itemHeight:9,padding:0,selectedMode:false,
    data:[{name:legendD[0],icon:'diamond',itemStyle:{color:'#000'}},{name:legendD[1],icon:'diamond',itemStyle:{color:'#a6a6a6'}}],
    formatter:n=>{const m=n.lastIndexOf(' ');return '{t|'+n.slice(0,m+1)+'}{b|'+n.slice(m+1)+'}';},
    textStyle:{rich:{t:{fontSize:11,fontFamily:FONT,color:'#3a3a3a'},b:{fontSize:11,fontFamily:FONT,fontWeight:'bold',color:'#222'}}}});

  // 73 ohm.m callout
  const [bx,by,bw,bh]=L.box73;
  graphics.push(rect(bx,by,bw,bh,{z:8,style:{fill:'#fff',stroke:'#7f7f7f',lineWidth:1}}));
  graphics.push({type:'text',silent:true,z:9,x:bx+bw/2,y:by+bh/2,style:{text:'73 Ω.m',fontSize:9.5,fontWeight:'bold',fontFamily:FONT,fill:'#222',align:'center',verticalAlign:'middle'}});
});
titles.push({text:'rho (ohm.m)',left:815,top:1087,padding:0,textStyle:{fontFamily:FONT,fontSize:12,fontWeight:'normal',color:C.grey}});
// stacked duplicate behind the third B box
graphics.push(rect(380,1585,25,19.5,{z:8,style:{fill:'#fff',stroke:'#222',lineWidth:1.2}}));
letterBoxes.forEach(([t,x,y,w,h])=>{
  graphics.push(rect(x,y,w,h,{z:9,style:{fill:'#fff',stroke:'#222',lineWidth:1.4}}));
  graphics.push({type:'text',silent:true,z:10,x:x+w/2,y:y+h/2+0.5,style:{text:t,fontSize:18,fontFamily:FONT,fill:'#222',align:'center',verticalAlign:'middle'}});
});

const chart=echarts.init(document.getElementById('c'),null,{renderer:'canvas'});
chart.setOption({animation:false,backgroundColor:'#fff',title:titles,legend:legends,grid:grids,xAxis:xAxes,yAxis:yAxes,series,graphic:{elements:graphics}});
</script></body></html>
